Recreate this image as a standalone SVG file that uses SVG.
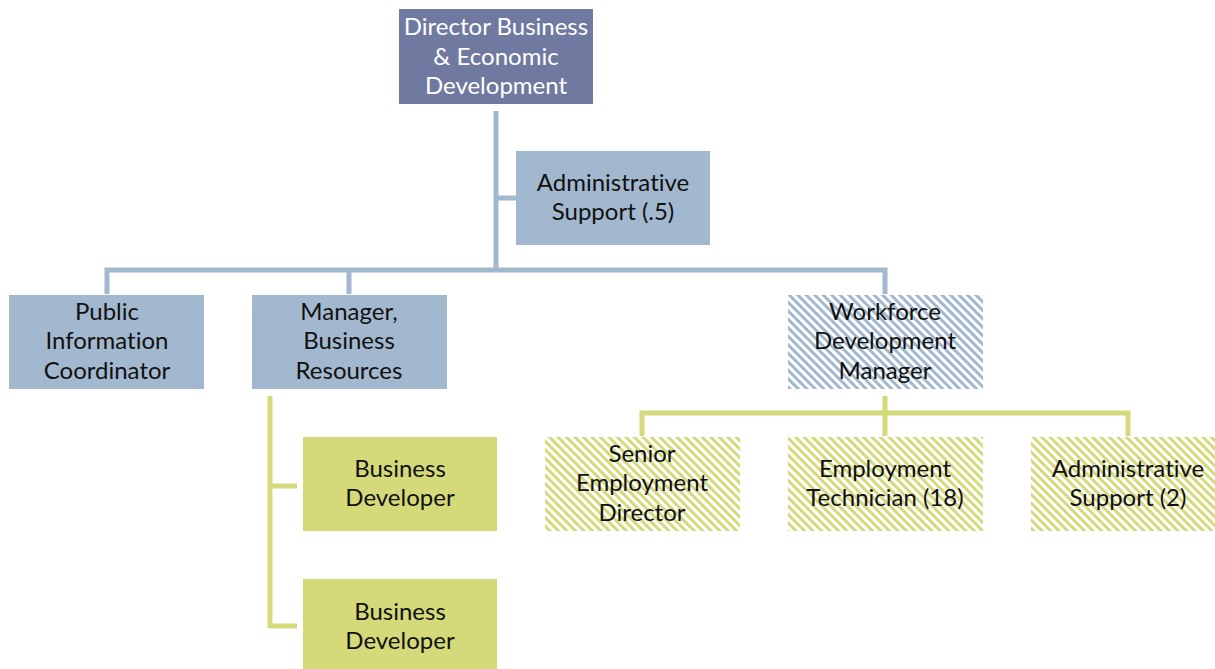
<svg xmlns="http://www.w3.org/2000/svg" width="1215" height="669" viewBox="0 0 1215 669">
<style>
.t{font-family:Lato,"Open Sans","Liberation Sans",sans-serif;font-size:24px;fill:#111111;text-anchor:middle;font-variant-ligatures:none;font-feature-settings:"liga" 0}
.w{fill:#ffffff}
.bl{fill:#a2b8cf}
.gr{fill:#d4da7a}
.cb{stroke:#a2b8cf;stroke-width:5;fill:none}
.cg{stroke:#d4da7a;stroke-width:5;fill:none}
</style>
<defs>
<pattern id="hb" patternUnits="userSpaceOnUse" width="6" height="6" patternTransform="rotate(-45)">
<rect width="6" height="6" fill="#ffffff"/><rect width="3" height="6" fill="#a2b8cf"/>
</pattern>
<pattern id="hg" patternUnits="userSpaceOnUse" width="6" height="6" patternTransform="rotate(-45)">
<rect width="6" height="6" fill="#ffffff"/><rect width="3" height="6" fill="#d4da7a"/>
</pattern>
</defs>
<rect width="1215" height="669" fill="#ffffff"/>
<g id="connectors">
<path class="cb" d="M496 111V270M107 294V270H885V294M349 270V294M496 198H516"/>
<path class="cg" d="M270 396V628M270 486H297M270 626H297"/>
<path class="cg" d="M885 396V413M642 436V413H1128V436M885 413V436"/>
</g>
<g id="director">
<rect x="399" y="9" width="194" height="95" fill="#7079a0"/>
<text class="t w" x="496" y="35">Director Business</text>
<text class="t w" x="496" y="65">&amp; Economic</text>
<text class="t w" x="496" y="94">Development</text>
</g>
<g id="admin5">
<rect class="bl" x="516" y="151" width="194" height="94"/>
<text class="t" x="613" y="191">Administrative</text>
<text class="t" x="613" y="220">Support (.5)</text>
</g>
<g id="pic">
<rect class="bl" x="9" y="295" width="195" height="94"/>
<text class="t" x="107" y="320">Public</text>
<text class="t" x="107" y="349">Information</text>
<text class="t" x="107" y="379">Coordinator</text>
</g>
<g id="manager">
<rect class="bl" x="252" y="295" width="195" height="94"/>
<text class="t" x="349" y="320">Manager,</text>
<text class="t" x="349" y="349">Business</text>
<text class="t" x="349" y="379">Resources</text>
</g>
<g id="workforce">
<rect x="788" y="295" width="195" height="94" fill="url(#hb)"/>
<text class="t" x="885" y="320">Workforce</text>
<text class="t" x="885" y="349">Development</text>
<text class="t" x="885" y="379">Manager</text>
</g>
<g id="bd1">
<rect class="gr" x="303" y="437" width="194" height="94"/>
<text class="t" x="400" y="477">Business</text>
<text class="t" x="400" y="506">Developer</text>
</g>
<g id="bd2">
<rect class="gr" x="303" y="579" width="194" height="94"/>
<text class="t" x="400" y="620">Business</text>
<text class="t" x="400" y="649">Developer</text>
</g>
<g id="sed">
<rect x="545" y="437" width="195" height="94" fill="url(#hg)"/>
<text class="t" x="642" y="462">Senior</text>
<text class="t" x="642" y="491">Employment</text>
<text class="t" x="642" y="521">Director</text>
</g>
<g id="et">
<rect x="788" y="437" width="195" height="94" fill="url(#hg)"/>
<text class="t" x="885" y="477">Employment</text>
<text class="t" x="885" y="506">Technician (18)</text>
</g>
<g id="admin2">
<rect x="1031" y="437" width="184" height="94" fill="url(#hg)"/>
<text class="t" x="1128" y="477">Administrative</text>
<text class="t" x="1128" y="506">Support (2)</text>
</g>
</svg>
